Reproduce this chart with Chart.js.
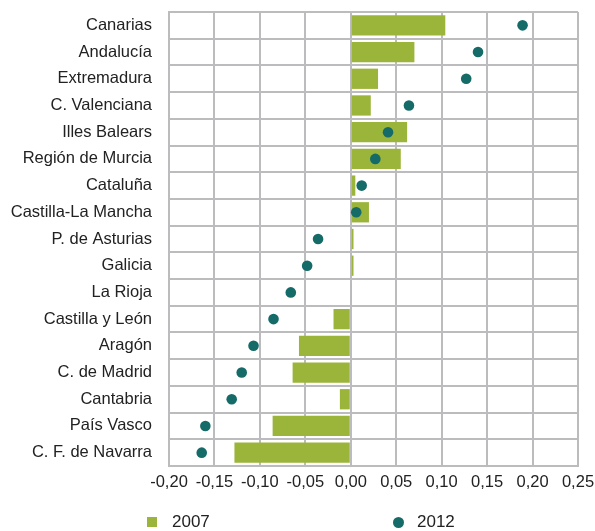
<!DOCTYPE html>
<html>
<head>
<meta charset="utf-8">
<script src="https://cdn.jsdelivr.net/npm/chart.js@4"></script>
<style>
  html, body { margin: 0; padding: 0; background: #fff; }
  #wrap { position: relative; width: 595px; height: 531px; overflow: hidden; font-family: "Liberation Sans", Arial, sans-serif; }
  #chart { position: absolute; left: 0; top: 0; }
  .leg { position: absolute; top: 511px; font-size: 17px; color: #222; line-height: 22px; }
  .sw { position: absolute; top: 6px; width: 10px; height: 10px; }
</style>
</head>
<body>
<div id="wrap">
  <canvas id="chart" width="595" height="531"></canvas>
  <div class="leg" style="left:147px"><span class="sw" style="left:0;background:#9bb53a"></span><span style="margin-left:25px">2007</span></div>
  <div class="leg" style="left:393px"><span class="sw" style="left:0;width:11px;height:11px;background:#156b68;border-radius:50%"></span><span style="margin-left:24px">2012</span></div>
</div>
<script>
const regions = ['Canarias', 'Andalucía', 'Extremadura', 'C. Valenciana', 'Illes Balears', 'Región de Murcia',
    'Cataluña', 'Castilla-La Mancha', 'P. de Asturias', 'Galicia', 'La Rioja', 'Castilla y León',
    'Aragón', 'C. de Madrid', 'Cantabria', 'País Vasco', 'C. F. de Navarra'];
const values2007 = [0.104, 0.070, 0.030, 0.022, 0.062, 0.055, 0.005, 0.020, 0.003, 0.003, 0.001, -0.019,
    -0.057, -0.064, -0.012, -0.086, -0.128];
const values2012 = [0.189, 0.140, 0.127, 0.064, 0.041, 0.027, 0.012, 0.006, -0.036, -0.048, -0.066, -0.085,
    -0.107, -0.120, -0.131, -0.160, -0.164];
const xTicks = [-0.20, -0.15, -0.10, -0.05, 0.00, 0.05, 0.10, 0.15, 0.20, 0.25];

const gridColor = '#bcbcbf';
const ctx = document.getElementById('chart').getContext('2d');

new Chart(ctx, {
    type: 'bar',
    data: {
        labels: regions,
        datasets: [{
            type: 'line',
            label: '2012',
            data: values2012,
            showLine: false,
            pointRadius: 5.3,
            pointHoverRadius: 5.3,
            pointBackgroundColor: '#156b68',
            pointBorderWidth: 0,
            order: 0
        }, {
            label: '2007',
            data: values2007,
            backgroundColor: '#9bb53a',
            categoryPercentage: 1,
            barPercentage: 0.76,
            order: 1
        }]
    },
    options: {
        indexAxis: 'y',
        responsive: false,
        animation: false,
        layout: { padding: { top: 12, right: 17, left: 0, bottom: 0 } },
        plugins: {
            legend: { display: false },
            tooltip: { enabled: false }
        },
        scales: {
            x: {
                min: -0.20,
                max: 0.25,
                afterBuildTicks: function (axis) {
                    axis.ticks = xTicks.map(v => ({ value: v }));
                },
                afterFit: function (axis) {
                    axis.height = 65;
                    axis.paddingLeft = 0;
                    axis.paddingRight = 0;
                },
                grid: { color: gridColor, lineWidth: 2, drawTicks: false },
                border: { color: gridColor, width: 2 },
                ticks: {
                    padding: 7,
                    color: '#222',
                    font: { family: 'Liberation Sans', size: 16.5 },
                    callback: v => v.toFixed(2).replace('.', ',')
                }
            },
            y: {
                offset: true,
                afterFit: function (axis) {
                    axis.width = 169;
                    axis.paddingTop = 0;
                    axis.paddingBottom = 0;
                },
                grid: { color: gridColor, lineWidth: 2, offset: true, drawTicks: false },
                border: { color: gridColor, width: 2 },
                ticks: {
                    padding: 17,
                    color: '#222',
                    font: { family: 'Liberation Sans', size: 16.5 }
                }
            }
        }
    }
});
</script>
</body>
</html>
